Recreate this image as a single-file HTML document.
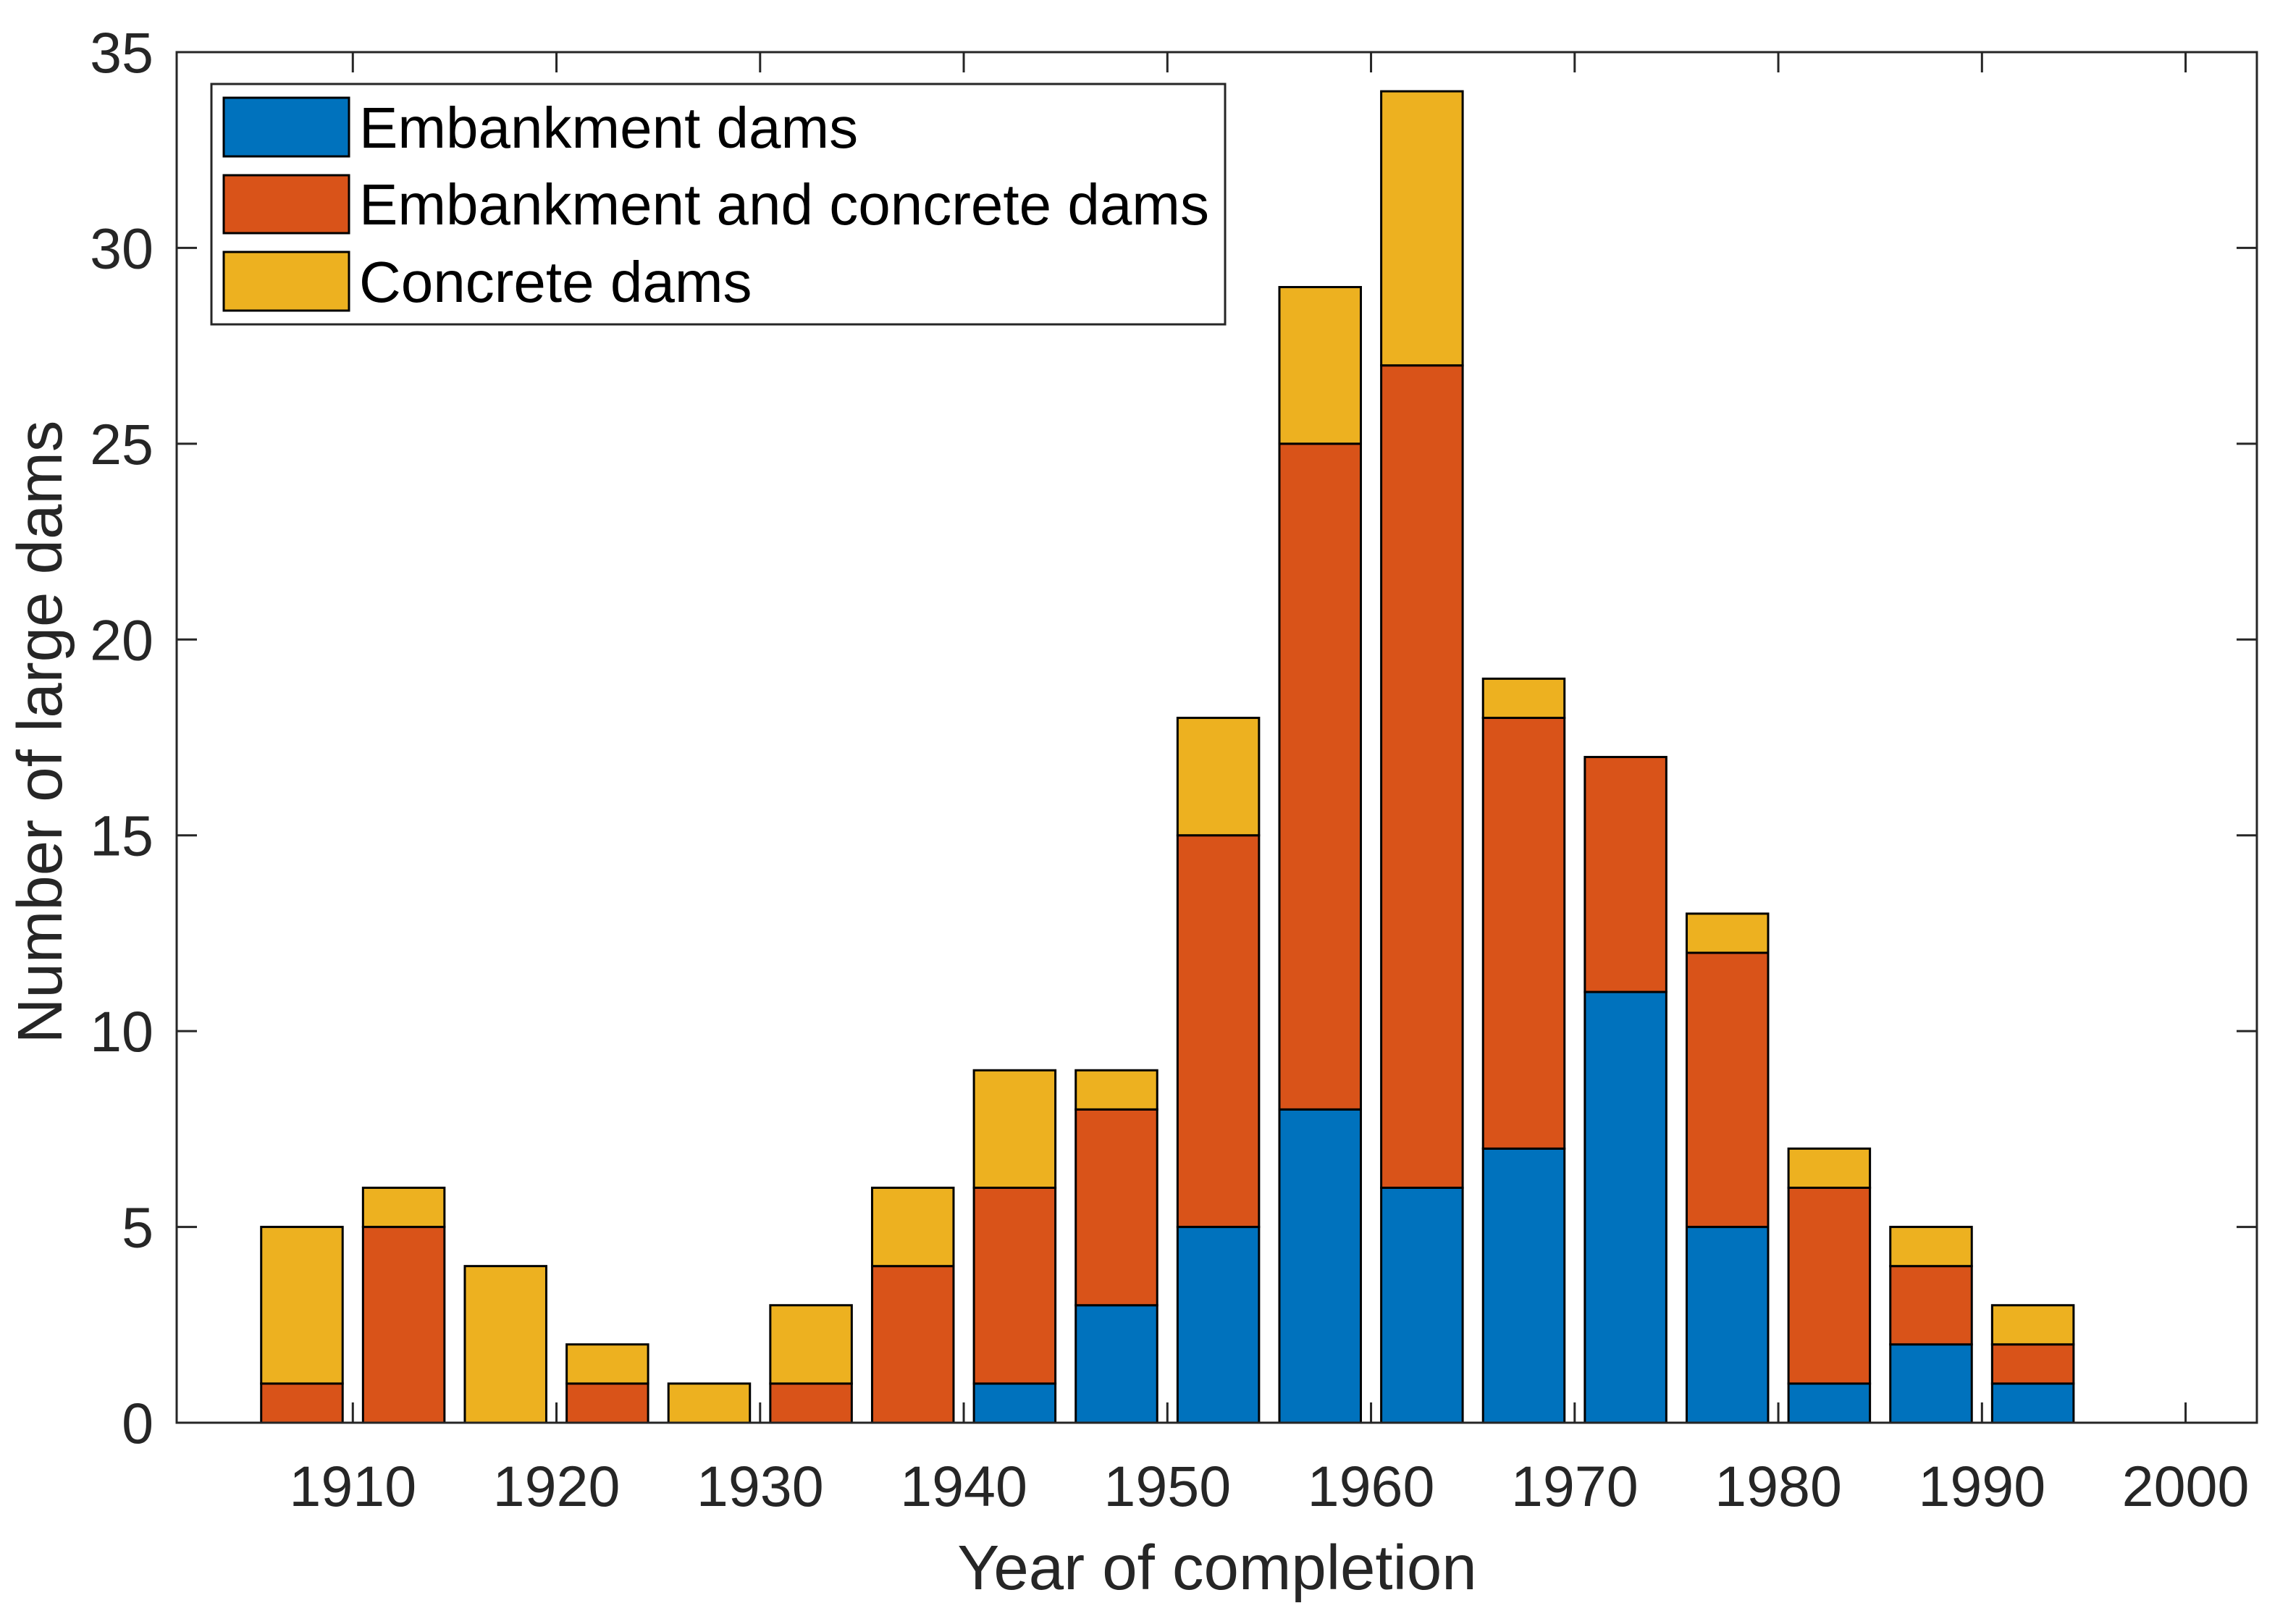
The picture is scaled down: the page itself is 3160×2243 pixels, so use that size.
<!DOCTYPE html>
<html><head><meta charset="utf-8"><style>
html,body{margin:0;padding:0;background:#fff;}
svg{display:block;font-family:"Liberation Sans",Arial,sans-serif;}
</style></head><body>
<svg id="chart" width="3160" height="2243" viewBox="0 0 3160 2243" xmlns="http://www.w3.org/2000/svg">
<rect x="0" y="0" width="3160" height="2243" fill="#fff"/>
<g id="bars"></g>
<g id="axes"></g>
<text x="1681" y="2195" font-size="87" text-anchor="middle" fill="#262626">Year of completion</text>
<text transform="translate(85,1011) rotate(-90)" font-size="87" text-anchor="middle" fill="#262626">Number of large dams</text>
<g>
<rect x="292" y="116" width="1400" height="332" fill="#fff" stroke="#262626" stroke-width="3"/>
<rect x="309" y="135" width="173" height="81" fill="#0072BD" stroke="#000" stroke-width="3"/>
<text x="496" y="204" font-size="80" fill="#000">Embankment dams</text>
<rect x="309" y="242" width="173" height="80" fill="#D95319" stroke="#000" stroke-width="3"/>
<text x="496" y="310" font-size="80" fill="#000">Embankment and concrete dams</text>
<rect x="309" y="348" width="173" height="81" fill="#EDB120" stroke="#000" stroke-width="3"/>
<text x="496" y="417" font-size="80" fill="#000">Concrete dams</text>
</g>
</svg>
<script>
const years = [1907.5,1912.5,1917.5,1922.5,1927.5,1932.5,1937.5,1942.5,1947.5,1952.5,1957.5,1962.5,1967.5,1972.5,1977.5,1982.5,1987.5,1992.5];
const embankment = [0,0,0,0,0,0,0,1,3,5,8,6,7,11,5,1,2,1];
const embankmentConcrete = [1,5,0,1,0,1,4,5,5,10,17,21,11,6,7,5,2,1];
const concrete = [4,1,4,1,1,2,2,3,1,3,4,7,1,0,1,1,1,1];
const xTicks = [1910,1920,1930,1940,1950,1960,1970,1980,1990,2000];
const yTicks = [0,5,10,15,20,25,30,35];

const L=244,R=3117,T=72,B=1965;
const xMin=1901.35,xMax=2003.5,yMax=35;
function xs(v){return L+(v-xMin)/(xMax-xMin)*(R-L);}
function ys(v){return B-v/yMax*(B-T);}
const NS="http://www.w3.org/2000/svg";
const barsG=document.getElementById('bars');
const axesG=document.getElementById('axes');
const bw=4.0;
const series=[[embankment,'#0072BD','embankment'],[embankmentConcrete,'#D95319','embankment-concrete'],[concrete,'#EDB120','concrete']];
years.forEach((yr,i)=>{
  let base=0;
  series.forEach(([arr,col,nm])=>{
    const v=arr[i];
    if(v>0){
      const r=document.createElementNS(NS,'rect');
      r.setAttribute('x',xs(yr-bw/2));
      r.setAttribute('width',xs(yr+bw/2)-xs(yr-bw/2));
      r.setAttribute('y',ys(base+v));
      r.setAttribute('height',ys(base)-ys(base+v));
      r.setAttribute('fill',col);
      r.setAttribute('stroke','#000');
      r.setAttribute('stroke-width','3');
      
      
      barsG.appendChild(r);
    }
    base+=v;
  });
});
const frame=document.createElementNS(NS,'rect');
frame.setAttribute('x',L);frame.setAttribute('y',T);
frame.setAttribute('width',R-L);frame.setAttribute('height',B-T);
frame.setAttribute('fill','none');frame.setAttribute('stroke','#262626');frame.setAttribute('stroke-width','3');


axesG.appendChild(frame);
function line(x1,y1,x2,y2,name){
  const l=document.createElementNS(NS,'line');
  l.setAttribute('x1',x1);l.setAttribute('y1',y1);l.setAttribute('x2',x2);l.setAttribute('y2',y2);
  l.setAttribute('stroke','#262626');l.setAttribute('stroke-width','3');
  
  
  axesG.appendChild(l);
}
function label(x,y,txt,anchor,name){
  const t=document.createElementNS(NS,'text');
  t.setAttribute('x',x);t.setAttribute('y',y);t.setAttribute('font-size','79');
  t.setAttribute('text-anchor',anchor);t.setAttribute('fill','#262626');
  t.textContent=txt;
  
  
  axesG.appendChild(t);
}
xTicks.forEach(v=>{
  const x=xs(v);
  line(x,B,x,B-28,'x-tick');
  line(x,T,x,T+28,'x-tick-top');
  label(x,2080,String(v),'middle','x-tick-label');
});
yTicks.forEach(v=>{
  const y=ys(v);
  line(L,y,L+28,y,'y-tick');
  line(R,y,R-28,y,'y-tick-right');
  label(212,y+28,String(v),'end','y-tick-label');
});
</script>
</body></html>
